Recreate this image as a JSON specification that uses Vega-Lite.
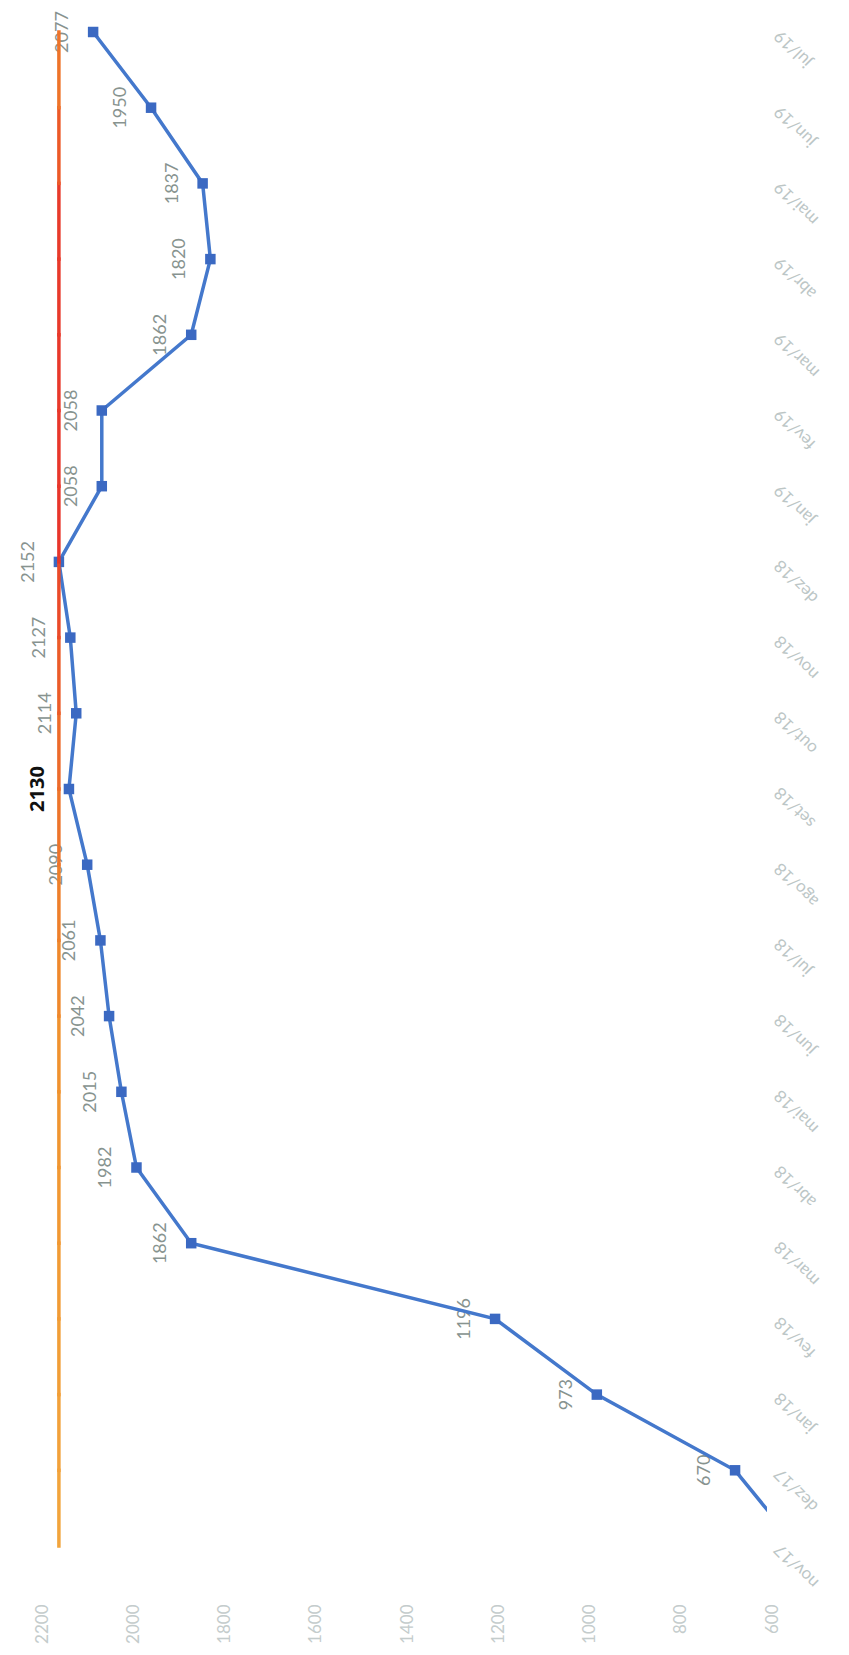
{
  "$schema": "https://vega.github.io/schema/vega-lite/v6.json",
  "autosize": {"type": "none"},
  "padding": {"left": 37, "top": 32, "right": 82, "bottom": 109},
  "width": 730,
  "height": 1514,
  "background": "white",
  "config": {"view": {"stroke": null}, "font": "Lato"},
  "data": {"values": [
    {"mes": "nov/17", "ordem": 1, "valor": 535, "meta": 2152},
    {"mes": "dez/17", "ordem": 2, "valor": 670, "meta": 2152},
    {"mes": "jan/18", "ordem": 3, "valor": 973, "meta": 2152},
    {"mes": "fev/18", "ordem": 4, "valor": 1196, "meta": 2152},
    {"mes": "mar/18", "ordem": 5, "valor": 1862, "meta": 2152},
    {"mes": "abr/18", "ordem": 6, "valor": 1982, "meta": 2152},
    {"mes": "mai/18", "ordem": 7, "valor": 2015, "meta": 2152},
    {"mes": "jun/18", "ordem": 8, "valor": 2042, "meta": 2152},
    {"mes": "jul/18", "ordem": 9, "valor": 2061, "meta": 2152},
    {"mes": "ago/18", "ordem": 10, "valor": 2090, "meta": 2152},
    {"mes": "set/18", "ordem": 11, "valor": 2130, "meta": 2152},
    {"mes": "out/18", "ordem": 12, "valor": 2114, "meta": 2152},
    {"mes": "nov/18", "ordem": 13, "valor": 2127, "meta": 2152},
    {"mes": "dez/18", "ordem": 14, "valor": 2152, "meta": 2152},
    {"mes": "jan/19", "ordem": 15, "valor": 2058, "meta": 2152},
    {"mes": "fev/19", "ordem": 16, "valor": 2058, "meta": 2152},
    {"mes": "mar/19", "ordem": 17, "valor": 1862, "meta": 2152},
    {"mes": "abr/19", "ordem": 18, "valor": 1820, "meta": 2152},
    {"mes": "mai/19", "ordem": 19, "valor": 1837, "meta": 2152},
    {"mes": "jun/19", "ordem": 20, "valor": 1950, "meta": 2152},
    {"mes": "jul/19", "ordem": 21, "valor": 2077, "meta": 2152}
  ]},
  "encoding": {
    "y": {
      "field": "mes", "type": "ordinal",
      "sort": ["jul/19","jun/19","mai/19","abr/19","mar/19","fev/19","jan/19","dez/18","nov/18","out/18","set/18","ago/18","jul/18","jun/18","mai/18","abr/18","mar/18","fev/18","jan/18","dez/17","nov/17"],
      "scale": {"type": "point", "padding": 0},
      "axis": {
        "orient": "right", "title": null, "domain": false, "ticks": false,
        "labelAngle": 225, "labelAlign": "right", "labelBaseline": "middle",
        "labelPadding": 10, "labelFontSize": 17, "labelColor": "#bcc6c6",
        "labelFont": "Lato", "labelOverlap": false
      }
    }
  },
  "layer": [
    {
      "transform": [{"filter": "datum.valor >= 600 && datum.mes !== 'set/18'"}],
      "mark": {"type": "text", "angle": 270, "align": "center", "baseline": "middle", "dy": -30, "fontSize": 18, "font": "Lato", "color": "#87938f"},
      "encoding": {
        "x": {"field": "valor", "type": "quantitative", "scale": {"domain": [600, 2200], "reverse": true, "nice": false, "zero": false},
          "axis": {
            "orient": "bottom", "title": null, "domain": false, "ticks": false, "grid": false,
            "values": [600, 800, 1000, 1200, 1400, 1600, 1800, 2000, 2200], "format": "d",
            "labelAngle": 270, "labelAlign": "right", "labelBaseline": "middle",
            "labelPadding": 58, "labelOffset": 5, "labelFontSize": 17, "labelColor": "#c4cccc",
            "labelFont": "Lato", "labelOverlap": false, "labelBound": false, "labelFlush": false
          }
        },
        "text": {"field": "valor", "type": "quantitative", "format": "d"}
      }
    },
    {
      "transform": [{"filter": "datum.mes === 'set/18'"}],
      "mark": {"type": "text", "angle": 270, "align": "center", "baseline": "middle", "dy": -31, "fontSize": 20, "fontWeight": "bold", "font": "Open Sans", "color": "#111111"},
      "encoding": {
        "x": {"field": "valor", "type": "quantitative"},
        "text": {"field": "valor", "type": "quantitative", "format": "d"}
      }
    },
    {
      "mark": {"type": "line", "color": "#4478cc", "strokeWidth": 3.5, "clip": true},
      "encoding": {
        "x": {"field": "valor", "type": "quantitative"},
        "order": {"field": "ordem", "type": "quantitative"}
      }
    },
    {
      "transform": [{"filter": "datum.valor >= 600"}],
      "mark": {"type": "point", "shape": "square", "filled": true, "size": 110, "color": "#3b69c2", "opacity": 1},
      "encoding": {
        "x": {"field": "valor", "type": "quantitative"}
      }
    },
    {
      "transform": [
        {"window": [{"op": "lead", "field": "mes", "as": "mes_seguinte"}], "sort": [{"field": "ordem", "order": "ascending"}]},
        {"filter": "datum.mes_seguinte != null"}
      ],
      "mark": {"type": "rule", "strokeWidth": 3.5, "strokeCap": "square"},
      "encoding": {
        "x": {"field": "meta", "type": "quantitative"},
        "y2": {"field": "mes_seguinte"},
        "color": {
          "field": "ordem", "type": "quantitative", "legend": null,
          "scale": {"domain": [1, 7, 11, 14, 18, 21], "range": ["#f2a43c", "#f0922e", "#ec6a2a", "#e8352a", "#e83a2a", "#f08a2e"]}
        }
      }
    }
  ]
}
